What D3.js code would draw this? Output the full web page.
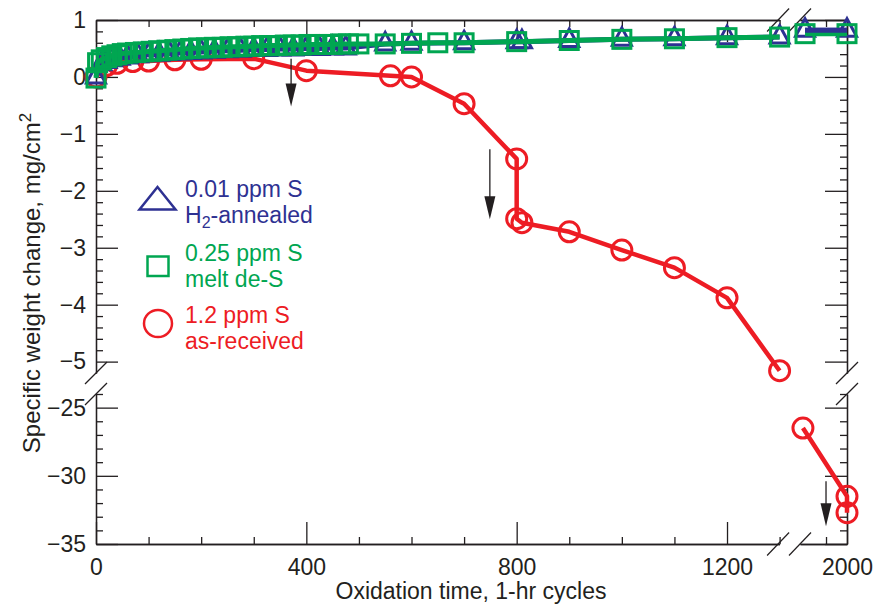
<!DOCTYPE html>
<html>
<head>
<meta charset="utf-8">
<script src="https://cdn.jsdelivr.net/npm/d3@7"></script>
<style>
  html, body { margin: 0; padding: 0; background: #fff; }
  svg text { font-family: "Liberation Sans", Arial, Helvetica, sans-serif; }
</style>
</head>
<body>
<svg id="chart" width="876" height="609"></svg>
<script>
// ---------------- DATA ----------------
const xLeftTicks = [0, 400, 800, 1200];
const xRightTicks = [2000];
const yUpperTicks = [1, 0, -1, -2, -3, -4, -5];
const yLowerTicks = [-25, -30, -35];

// 1.2 ppm S as-received (circles)
const redT = [0, 20, 40, 70, 100, 150, 200, 300, 400, 560, 600, 700, 800, 800, 810, 900, 1000, 1100, 1200, 1300, 1790, 2000, 2000];
const redV = [0.0, 0.2, 0.24, 0.27, 0.28, 0.3, 0.31, 0.32, 0.11, 0.02, 0.0, -0.47, -1.44, -2.49, -2.56, -2.72, -3.04, -3.35, -3.88, -5.16, -26.5, -31.5, -32.7];

// 0.01 ppm S H2-annealed (triangles)
const blueT = [0, 10, 20, 30, 45, 60, 80, 100, 120, 140, 160, 180, 200, 225, 250, 275, 300, 325, 350, 375, 400, 425, 450, 475, 550, 600, 700, 800, 810, 900, 1000, 1100, 1200, 1300, 1800, 2000];
const blueV = [0.0, 0.23, 0.27, 0.3, 0.33, 0.35, 0.37, 0.39, 0.4, 0.41, 0.42, 0.43, 0.44, 0.45, 0.46, 0.47, 0.48, 0.48, 0.49, 0.49, 0.5, 0.5, 0.51, 0.51, 0.58, 0.59, 0.6, 0.62, 0.62, 0.64, 0.66, 0.67, 0.69, 0.7, 0.82, 0.82];

// 0.25 ppm S melt de-S (squares)
const greenT = [0, 3, 10, 20, 30, 40, 50, 60, 75, 90, 105, 120, 135, 150, 165, 180, 195, 210, 225, 240, 255, 270, 285, 300, 315, 330, 345, 360, 375, 390, 405, 420, 435, 450, 465, 480, 500, 550, 600, 650, 700, 800, 900, 1000, 1100, 1200, 1300, 1800, 2000];
const greenV = [-0.02, 0.25, 0.3, 0.34, 0.37, 0.39, 0.41, 0.42, 0.43, 0.44, 0.45, 0.46, 0.47, 0.48, 0.49, 0.5, 0.51, 0.51, 0.52, 0.52, 0.53, 0.53, 0.54, 0.54, 0.55, 0.55, 0.55, 0.56, 0.56, 0.56, 0.57, 0.57, 0.57, 0.57, 0.58, 0.58, 0.58, 0.58, 0.59, 0.6, 0.6, 0.62, 0.64, 0.66, 0.67, 0.69, 0.7, 0.76, 0.76];

// arrows [time, fromValue, toValue]
const arrowT = [371, 749, 1900];
const arrowFrom = [0.32, -1.27, -30.4];
const arrowTo = [-0.52, -2.5, -33.7];

const legendLines = [
  ["0.01 ppm S", "H|2|-annealed"],
  ["0.25 ppm S", "melt de-S"],
  ["1.2 ppm S", "as-received"]
];

// ---------------- STYLE ----------------
const BLUE = "#2e3192", GREEN = "#00a651", RED = "#ed1c24", INK = "#231f20";
const FS = "23px";
const svg = d3.select("#chart");

// broken scales
const xL = d3.scaleLinear().domain([0, 1300]).range([96, 779.6]);
const xR = d3.scaleLinear().domain([1776, 2000]).range([800, 847]);
const yU = d3.scaleLinear().domain([-5.2, 1]).range([373, 20]);
const yD = d3.scaleLinear().domain([-35, -24]).range([544, 394]);
const X = t => t <= 1300 ? xL(t) : xR(t);
const Y = v => v >= -5.2 ? yU(v) : yD(v);

const fmt = d => d < 0 ? "\u2212" + Math.abs(d) : String(d);

function drawAxis(axis, tx, ty, labels) {
  const g = svg.append("g").attr("transform", `translate(${tx},${ty})`).call(axis);
  g.selectAll("path, line").attr("stroke", INK).attr("stroke-width", 1.3);
  g.selectAll("text").attr("fill", INK).style("font-size", FS)
    .style("font-family", '"Liberation Sans", Arial, sans-serif');
  if (!labels) g.selectAll("text").remove();
  return g;
}
const minorRange = (a, b, s, skip) => d3.range(a, b + s / 2, s).map(v => +v.toFixed(2)).filter(v => !skip.some(k => Math.abs(k - v) < 1e-6));

const xLMinor = minorRange(100, 1300, 100, xLeftTicks);
const xRMinor = [1900];
const yUMinor = minorRange(-5, 1, 0.2, yUpperTicks);
const yDMinor = minorRange(-35, -24, 1, yLowerTicks);

// bottom
drawAxis(d3.axisBottom(xL).tickValues(xLMinor).tickSize(-7).tickSizeOuter(0), 0, 544, false);
drawAxis(d3.axisBottom(xL).tickValues(xLeftTicks).tickSize(-22).tickSizeOuter(0).tickPadding(15).tickFormat(fmt), 0, 544, true);
drawAxis(d3.axisBottom(xR).tickValues(xRMinor).tickSize(-7).tickSizeOuter(0), 0, 544, false);
drawAxis(d3.axisBottom(xR).tickValues(xRightTicks).tickSize(-22).tickSizeOuter(0).tickPadding(15).tickFormat(fmt), 0, 544, true);
// top
drawAxis(d3.axisTop(xL).tickValues(xLMinor).tickSize(-7).tickSizeOuter(0), 0, 20, false);
drawAxis(d3.axisTop(xL).tickValues(xLeftTicks).tickSize(-22).tickSizeOuter(0), 0, 20, false);
drawAxis(d3.axisTop(xR).tickValues(xRMinor).tickSize(-7).tickSizeOuter(0), 0, 20, false);
drawAxis(d3.axisTop(xR).tickValues(xRightTicks).tickSize(-22).tickSizeOuter(0), 0, 20, false);
// left
drawAxis(d3.axisLeft(yU).tickValues(yUMinor).tickSize(-7).tickSizeOuter(0), 96, 0, false);
drawAxis(d3.axisLeft(yU).tickValues(yUpperTicks).tickSize(-22).tickSizeOuter(0).tickPadding(10).tickFormat(fmt), 96, 0, true);
drawAxis(d3.axisLeft(yD).tickValues(yDMinor).tickSize(-7).tickSizeOuter(0), 96, 0, false);
drawAxis(d3.axisLeft(yD).tickValues(yLowerTicks).tickSize(-22).tickSizeOuter(0).tickPadding(10).tickFormat(fmt), 96, 0, true);
// right
drawAxis(d3.axisRight(yU).tickValues(yUMinor).tickSize(-7).tickSizeOuter(0), 847, 0, false);
drawAxis(d3.axisRight(yU).tickValues(yUpperTicks).tickSize(-22).tickSizeOuter(0), 847, 0, false);
drawAxis(d3.axisRight(yD).tickValues(yDMinor).tickSize(-7).tickSizeOuter(0), 847, 0, false);
drawAxis(d3.axisRight(yD).tickValues(yLowerTicks).tickSize(-22).tickSizeOuter(0), 847, 0, false);

// break slashes
const brk = svg.append("g").attr("stroke", INK).attr("stroke-width", 1.2);
const xBreaks = [xL(1300) - 1.5, xR(1776)];
const yBreaks = [yU(-5.2), yD(-24)];
[20, 544].forEach(yy => xBreaks.forEach(xx => brk.append("line")
  .attr("x1", xx - 11).attr("y1", yy + 11.5).attr("x2", xx + 11).attr("y2", yy - 11.5)));
[96, 847].forEach(xx => yBreaks.forEach(yy => brk.append("line")
  .attr("x1", xx - 11).attr("y1", yy + 11).attr("x2", xx + 11).attr("y2", yy - 11)));

// ---------------- SERIES ----------------
function segments(T, V) {
  const left = [], right = [];
  T.forEach((t, i) => (t <= 1300 ? left : right).push([t, V[i]]));
  return [left, right].filter(s => s.length);
}
const line = d3.line().x(d => X(d[0])).y(d => Y(d[1]));

function drawLines(T, V, color, w) {
  const segs = [];
  segments(T, V).forEach(s => {
    let cur = [];
    s.forEach(p => {
      if (cur.length && ((cur[cur.length - 1][1] >= -5.2) !== (p[1] >= -5.2))) { segs.push(cur); cur = []; }
      cur.push(p);
    });
    segs.push(cur);
  });
  segs.forEach(s => svg.append("path").attr("d", line(s)).attr("fill", "none")
    .attr("stroke", color).attr("stroke-width", w).attr("stroke-linejoin", "round"));
}

const triPath = (cx, cy, hw, up, down) => `M${cx},${cy - up}L${cx + hw},${cy + down}L${cx - hw},${cy + down}Z`;

// red (drawn first, beneath)
drawLines(redT, redV, RED, 4.5);
svg.append("g").selectAll("circle").data(redT.map((t, i) => [t, redV[i]])).join("circle")
  .attr("cx", d => X(d[0])).attr("cy", d => Y(d[1])).attr("r", 10)
  .attr("fill", "none").attr("stroke", RED).attr("stroke-width", 3);

// blue
drawLines(blueT, blueV, BLUE, 5);
svg.append("g").selectAll("path").data(blueT.map((t, i) => [t, blueV[i]])).join("path")
  .attr("d", d => triPath(X(d[0]), Y(d[1]), 9.5, 11.5, 6))
  .attr("fill", "none").attr("stroke", BLUE).attr("stroke-width", 3).attr("stroke-linejoin", "miter");

// green
drawLines(greenT, greenV, GREEN, 5);
svg.append("g").selectAll("rect").data(greenT.map((t, i) => [t, greenV[i]])).join("rect")
  .attr("x", d => X(d[0]) - 9).attr("y", d => Y(d[1]) - 9).attr("width", 18).attr("height", 18)
  .attr("fill", "none").attr("stroke", GREEN).attr("stroke-width", 3);

// blue line on right segment appears on top
const blueRight = blueT.map((t, i) => [t, blueV[i]]).filter(d => d[0] > 1300);
svg.append("path").attr("d", line(blueRight)).attr("fill", "none").attr("stroke", BLUE).attr("stroke-width", 5);

// arrows
const ag = svg.append("g");
arrowT.forEach((t, i) => {
  const x = X(t), y1 = Y(arrowFrom[i]), y2 = Y(arrowTo[i]);
  ag.append("line").attr("x1", x).attr("x2", x).attr("y1", y1).attr("y2", y2 - 20)
    .attr("stroke", INK).attr("stroke-width", 1.3);
  ag.append("path").attr("d", `M${x - 5.5},${y2 - 23}L${x + 5.5},${y2 - 23}L${x},${y2}Z`).attr("fill", INK);
});

// ---------------- LEGEND ----------------
const lg = svg.append("g");
lg.append("path").attr("d", "M157.5,187L175.5,209.5L139.5,209.5Z").attr("fill", "none").attr("stroke", BLUE).attr("stroke-width", 2.5);
lg.append("rect").attr("x", 147.5).attr("y", 256.5).attr("width", 21).attr("height", 19.5).attr("fill", "none").attr("stroke", GREEN).attr("stroke-width", 2.5);
lg.append("ellipse").attr("cx", 158).attr("cy", 323.5).attr("rx", 14).attr("ry", 13.5).attr("fill", "none").attr("stroke", RED).attr("stroke-width", 2.5);
const legColors = [BLUE, GREEN, RED];
const legBase = [197, 261, 323];
legendLines.forEach((lines, i) => {
  lines.forEach((txt, j) => {
    const t = lg.append("text").attr("x", 185).attr("y", legBase[i] + j * 25.5)
      .attr("fill", legColors[i]).style("font-size", FS);
    const parts = txt.split("|");
    if (parts.length === 3) {
      t.append("tspan").text(parts[0]);
      t.append("tspan").attr("dy", 5).style("font-size", "16px").text(parts[1]);
      t.append("tspan").attr("dy", -5).text(parts[2]);
    } else t.text(txt);
  });
});

// ---------------- TITLES ----------------
svg.append("text").attr("x", 471).attr("y", 599).attr("text-anchor", "middle")
  .attr("fill", INK).style("font-size", FS).text("Oxidation time, 1-hr cycles");
const yt = svg.append("text").attr("transform", "translate(40,283) rotate(-90)")
  .attr("text-anchor", "middle").attr("fill", INK).style("font-size", "24px");
yt.append("tspan").text("Specific weight change, mg/cm");
yt.append("tspan").attr("dy", -9).style("font-size", "17px").text("2");
</script>
</body>
</html>
